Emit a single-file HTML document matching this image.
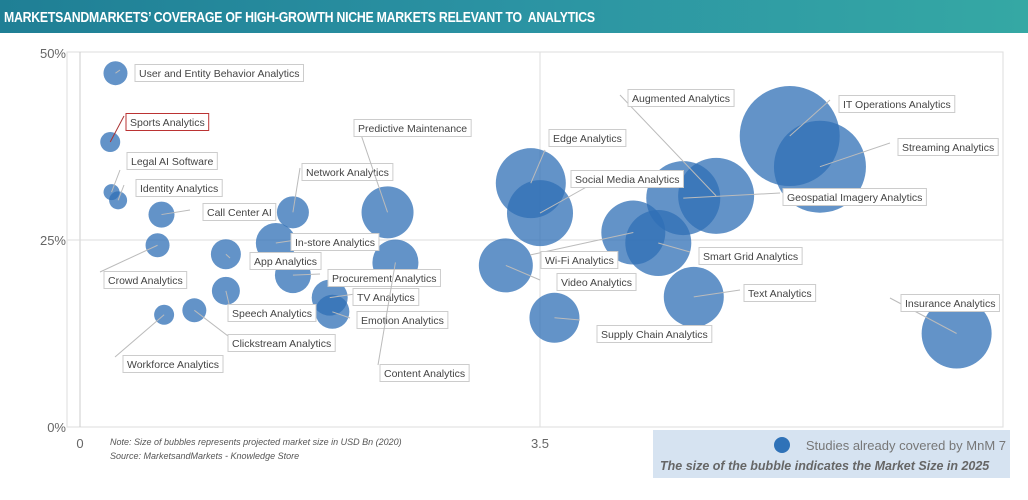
<!DOCTYPE html>
<html><head><meta charset="utf-8"><style>
body{margin:0;width:1028px;height:500px;background:#fff;font-family:"Liberation Sans",sans-serif;overflow:hidden;position:relative}
#title{position:absolute;left:0;top:0;width:1028px;height:33px;background:linear-gradient(90deg,#1f7f95,#2b93a3 50%,#35a8a4);box-sizing:border-box}
#title span{position:absolute;left:4px;top:0;color:#fff;font-weight:bold;font-size:15px;line-height:35px;letter-spacing:-0.3px;transform:scaleX(0.82);transform-origin:0 50%;white-space:nowrap}
svg{position:absolute;left:0;top:0}
</style></head><body>
<div id="title"><span>MARKETSANDMARKETS’ COVERAGE OF HIGH-GROWTH NICHE MARKETS RELEVANT TO&nbsp; ANALYTICS</span></div>
<svg id="chart" width="1028" height="500"></svg>
<script>
const names=["User and Entity Behavior Analytics","Sports Analytics","Legal AI Software","Identity Analytics","Call Center AI","Crowd Analytics","App Analytics","In-store Analytics","Speech Analytics","Clickstream Analytics","Workforce Analytics","Network Analytics","Procurement Analytics","TV Analytics","Emotion Analytics","Predictive Maintenance","Content Analytics","Video Analytics","Edge Analytics","Social Media Analytics","Supply Chain Analytics","Wi-Fi Analytics","Smart Grid Analytics","Augmented Analytics","Geospatial Imagery Analytics","IT Operations Analytics","Streaming Analytics","Text Analytics","Insurance Analytics"];
const xVals=[0.27,0.23,0.24,0.29,0.62,0.59,1.11,1.49,1.11,0.87,0.64,1.62,1.62,1.90,1.92,2.34,2.40,3.24,3.43,3.50,3.61,4.21,4.40,4.84,4.59,5.40,5.63,4.67,6.67];
const yVals=[47.3,38.1,31.4,30.3,28.4,24.3,23.1,24.6,18.2,15.6,15.0,28.7,20.3,17.3,15.4,28.7,22.0,21.6,32.6,28.6,14.6,26.0,24.6,30.9,30.6,38.9,34.8,17.4,12.5];
const sizes=[12,10,8,9,13,12,15,20,14,12,10,16,18,18,17,26,23,27,35,33,25,32,33,38,37,50,46,30,35];
const labX=[135,126,127,136,203,104,250,291,228,228,123,302,328,353,357,354,380,557,549,571,597,541,699,628,783,839,898,744,901];
const labY=[73,122,161,188,212,280,261,242,313,343,364,172,278,297,320,128,373,282,138,179,334,260,256,98,197,104,147,293,303];
const leadX=[120,124,120,124,190,100,230,296,230,228,115,300,320,355,350,356,378,540,545,590,580,530,690,620,780,830,890,740,890];
const leadY=[70,116,170,185,210,272,258,240,308,336,357,168,274,294,318,120,365,280,150,185,320,255,252,95,193,100,143,290,298];
const X0=80,XS=131.43,Y0=427,YS=7.48;
const sx=v=>X0+v*XS, sy=v=>Y0-v*YS;
const svg=document.getElementById('chart');const NS='http://www.w3.org/2000/svg';
function mk(t,a,p){const e=document.createElementNS(NS,t);for(const k in a)e.setAttribute(k,a[k]);(p||svg).appendChild(e);return e;}
const fr=mk('rect',{x:67,y:52,width:936,height:375,fill:'none',stroke:'#ddd'});


const ax=mk('line',{x1:80,y1:52,x2:80,y2:427,stroke:'#ccc'});


const gh=mk('line',{x1:67,y1:sy(25),x2:1003,y2:sy(25),stroke:'#ddd'});


const gv=mk('line',{x1:sx(3.5),y1:52,x2:sx(3.5),y2:427,stroke:'#ddd'});


const yT=[0,25,50],yL=["0%","25%","50%"];
yT.forEach((v,i)=>{const t=mk('text',{x:66,y:sy(v)+5,'text-anchor':'end','font-size':13,fill:'#666'});t.textContent=yL[i];

});
const xT=[0,3.5],xL=["0","3.5"];
xT.forEach((v,i)=>{const t=mk('text',{x:sx(v),y:448,'text-anchor':'middle','font-size':13,fill:'#666'});t.textContent=xL[i];

});
names.forEach((n,i)=>{const c=mk('circle',{cx:sx(xVals[i]),cy:sy(yVals[i]),r:sizes[i],fill:'#2f6fb6','fill-opacity':0.75});

});
names.forEach((n,i)=>{
 const red=i===1;
 const l=mk('line',{x1:sx(xVals[i]),y1:sy(yVals[i]),x2:leadX[i],y2:leadY[i],stroke:red?'#a33':'#bbb','stroke-width':1});
 
 
 const g=mk('g',{});
 
 
 const t=mk('text',{x:labX[i]+4,y:labY[i]+4,'font-size':10.5,fill:'#444'},g);t.textContent=n;
 const w=t.getComputedTextLength()+8;
 const r=mk('rect',{x:labX[i],y:labY[i]-8.5,width:w,height:17,fill:'#fff',stroke:red?'#b33':'#ccc'});
 g.insertBefore(r,t);
});
const n1=mk('text',{x:110,y:445,'font-size':9,'font-style':'italic',fill:'#555'});n1.textContent="Note: Size of bubbles represents projected market size in USD Bn (2020)";


const n2=mk('text',{x:110,y:459,'font-size':9,'font-style':'italic',fill:'#555'});n2.textContent="Source: MarketsandMarkets - Knowledge Store";


const lg=mk('g',{});


mk('rect',{x:653,y:430,width:357,height:48,fill:'#d6e3f1'},lg);
mk('circle',{cx:782,cy:445,r:8,fill:'#2f72b8'},lg);
const lt=mk('text',{x:1006,y:450,'text-anchor':'end','font-size':13,fill:'#777'},lg);lt.textContent="Studies already covered by MnM 7";
const lt2=mk('text',{x:660,y:470,'font-size':12.5,'font-style':'italic','font-weight':'bold',fill:'#666'},lg);lt2.textContent="The size of the bubble indicates the Market Size in 2025";
</script>
</body></html>
